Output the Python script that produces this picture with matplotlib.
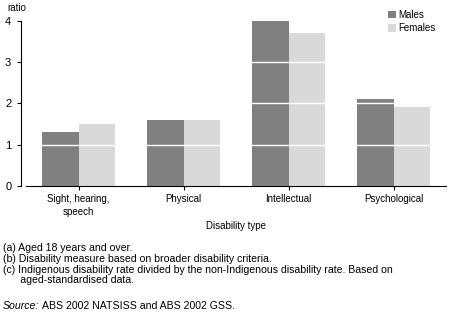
import matplotlib.pyplot as plt
import numpy as np

OUTPUT_IMAGE = "out.png"

categories = ["Sight, hearing,\nspeech", "Physical", "Intellectual", "Psychological"]
males = [1.3, 1.6, 4.0, 2.1]
females = [1.5, 1.6, 3.7, 1.9]
yticks = [0, 1, 2, 3, 4]

footnotes = [
    "(a) Aged 18 years and over.",
    "(b) Disability measure based on broader disability criteria.",
    "(c) Indigenous disability rate divided by the non-Indigenous disability rate. Based on",
    "      aged-standardised data.",
]

plt.rcParams['font.family'] = ['Liberation Sans', 'DejaVu Sans']

fig = plt.figure(figsize=(4.55, 3.21), dpi=100)
ax = fig.add_axes([26 / 455, 1 - 186 / 321, 420 / 455, 165.3 / 321])

x = np.arange(len(categories))
w = 0.35
ax.bar(x - w / 2, males, width=w, color='#808080', label='Males', zorder=1)
ax.bar(x + w / 2, females, width=w, color='#d9d9d9', label='Females', zorder=1)

# white gridlines drawn over the bars
for yv in [1, 2, 3]:
    ax.axhline(yv, color='white', lw=1, zorder=2)

ax.set_xlim(-0.5, 3.5)
ax.set_ylim(0, 4)
ax.set_yticks(yticks)
ax.set_xticks(x)
ax.set_xticklabels(categories, fontsize=7, linespacing=1.3)
ax.tick_params(axis='y', labelsize=8, length=3, width=0.8, pad=4)
ax.tick_params(axis='x', length=3, width=0.8, pad=3)

for s in ['top', 'right']:
    ax.spines[s].set_visible(False)
ax.spines['left'].set_position(('outward', 3.6))
ax.spines['left'].set_linewidth(0.8)
ax.spines['bottom'].set_linewidth(0.8)

ax.set_xlabel('Disability type', fontsize=7, labelpad=3)
fig.text(7 / 455, 1 - 8 / 321, 'ratio', fontsize=7, va='center', ha='left')

ax.legend(loc='upper left', bbox_to_anchor=(388 / 455, 1 - 10 / 321),
          bbox_transform=fig.transFigure, frameon=False, fontsize=7,
          handlelength=0.8, handleheight=0.8, handletextpad=0.3,
          labelspacing=0.35, borderpad=0, borderaxespad=0)

ys = [248, 259, 270, 280]
for t, yy in zip(footnotes, ys):
    fig.text(3 / 455, 1 - yy / 321, t, fontsize=7.6, va='center', ha='left')

src = fig.text(3 / 455, 1 - 306 / 321, 'Source:', fontsize=7.6, va='center', ha='left', style='italic')
fig.canvas.draw()
bb = src.get_window_extent()
fig.text((bb.x1 + 3) / 455, 1 - 306 / 321, 'ABS 2002 NATSISS and ABS 2002 GSS.', fontsize=7.6,
         va='center', ha='left')

fig.savefig(OUTPUT_IMAGE, dpi=100)
